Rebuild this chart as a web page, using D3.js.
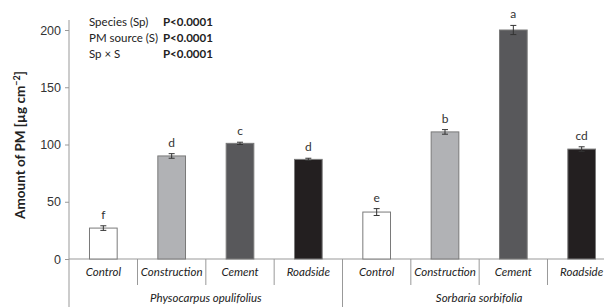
<!DOCTYPE html>
<html>
<head>
<meta charset="utf-8">
<script src="https://cdn.jsdelivr.net/npm/d3@7"></script>
<style>
  body { margin: 0; background: #fff; }
  svg { font-family: Lato, "Open Sans", sans-serif; }
</style>
</head>
<body>
<svg id="chart" width="604" height="307"></svg>
<script>
const species = ['Physocarpus opulifolius', 'Sorbaria sorbifolia'];
const sources = ['Control', 'Construction', 'Cement', 'Roadside'];
const values = [27, 90, 101, 87, 41, 111, 200, 96];
const errors = [2, 2, 1, 1, 3, 2, 4, 2];
const letters = ['f', 'd', 'c', 'd', 'e', 'b', 'a', 'cd'];
const yTicks = [0, 50, 100, 150, 200];
const stats = [
  ['Species (Sp)', 'P<0.0001'],
  ['PM source (S)', 'P<0.0001'],
  ['Sp × S', 'P<0.0001']
];
const fills = { Control: '#ffffff', Construction: '#b1b2b5', Cement: '#58585b', Roadside: '#231f20' };

const data = values.map((v, i) => ({
  key: i,
  sp: species[Math.floor(i / 4)],
  src: sources[i % 4],
  v: v,
  e: errors[i],
  l: letters[i]
}));

const svg = d3.select('#chart');
const left = 69, right = 616, base = 259;

const x = d3.scaleBand()
  .domain(data.map(d => d.key))
  .range([left, right])
  .paddingInner(0.595)
  .paddingOuter(0.3);

const y = d3.scaleLinear()
  .domain([0, 200])
  .range([base, 30]);

// y axis
const yAxis = svg.append('g')
  .attr('transform', `translate(${left},0)`)
  .call(d3.axisLeft(y).tickValues(yTicks).tickSize(4).tickPadding(4));
yAxis.select('.domain').remove();
yAxis.selectAll('line').attr('stroke', '#999');
yAxis.selectAll('text').attr('font-size', 12.5).attr('fill', '#333');

svg.append('line')
  .attr('x1', left).attr('x2', left)
  .attr('y1', 20).attr('y2', 307)
  .attr('stroke', '#999');

svg.append('line')
  .attr('x1', left).attr('x2', 604)
  .attr('y1', base).attr('y2', base)
  .attr('stroke', '#999');

// separators between categories
const step = x.step();
data.forEach((d, i) => {
  if (i === 0) return;
  const sx = x(d.key) - (step - x.bandwidth()) / 2;
  svg.append('line')
    .attr('x1', sx).attr('x2', sx)
    .attr('y1', base).attr('y2', i % 4 === 0 ? 307 : 285)
    .attr('stroke', '#999');
});

// bars
svg.selectAll('rect.bar')
  .data(data)
  .enter()
  .append('rect')
  .attr('class', 'bar')
  .attr('x', d => x(d.key))
  .attr('y', d => y(d.v))
  .attr('width', x.bandwidth())
  .attr('height', d => base - y(d.v))
  .attr('fill', d => fills[d.src])
  .attr('stroke', '#7a7a7a')
  .attr('stroke-width', 1);

// error bars
const eb = svg.selectAll('g.err')
  .data(data)
  .enter()
  .append('g')
  .attr('class', 'err')
  .attr('transform', d => `translate(${x(d.key) + x.bandwidth() / 2},0)`);
eb.append('line')
  .attr('y1', d => y(d.v - d.e)).attr('y2', d => y(d.v + d.e))
  .attr('stroke', '#333');
eb.append('line')
  .attr('x1', -3).attr('x2', 3)
  .attr('y1', d => y(d.v + d.e)).attr('y2', d => y(d.v + d.e))
  .attr('stroke', '#333');
eb.append('line')
  .attr('x1', -3).attr('x2', 3)
  .attr('y1', d => y(d.v - d.e)).attr('y2', d => y(d.v - d.e))
  .attr('stroke', '#333');

// letters
svg.selectAll('text.letter')
  .data(data)
  .enter()
  .append('text')
  .attr('class', 'letter')
  .attr('x', d => x(d.key) + x.bandwidth() / 2)
  .attr('y', d => y(d.v + d.e) - 7)
  .attr('text-anchor', 'middle')
  .attr('font-size', 12)
  .attr('fill', '#333')
  .text(d => d.l);

// category labels
svg.selectAll('text.cat')
  .data(data)
  .enter()
  .append('text')
  .attr('class', 'cat')
  .attr('x', d => x(d.key) + x.bandwidth() / 2)
  .attr('y', 276)
  .attr('text-anchor', 'middle')
  .attr('font-size', 11.5)
  .attr('font-style', 'italic')
  .attr('fill', '#222')
  .text(d => d.src);

// species labels
species.forEach((s, i) => {
  const x0 = x(i * 4) - (step - x.bandwidth()) / 2;
  svg.append('text')
    .attr('x', x0 + step * 2)
    .attr('y', 302)
    .attr('text-anchor', 'middle')
    .attr('font-size', 11.5)
    .attr('font-style', 'italic')
    .attr('fill', '#222')
    .text(s);
});

// y label
svg.append('text')
  .attr('transform', 'translate(25,145) rotate(-90)')
  .attr('text-anchor', 'middle')
  .attr('font-size', 13.5)
  .attr('font-weight', 'bold')
  .attr('fill', '#222')
  .html('Amount of PM [µg cm<tspan dy="-5" font-size="9">−2</tspan><tspan dy="5">]</tspan>');

// stats box
const st = svg.selectAll('g.stat')
  .data(stats)
  .enter()
  .append('g')
  .attr('transform', (d, i) => `translate(89,${26 + i * 16})`);
st.append('text')
  .attr('font-size', 11.5)
  .attr('fill', '#222')
  .text(d => d[0]);
st.append('text')
  .attr('x', 74)
  .attr('font-size', 11.5)
  .attr('font-weight', 'bold')
  .attr('fill', '#222')
  .text(d => d[1]);
</script>
</body>
</html>
